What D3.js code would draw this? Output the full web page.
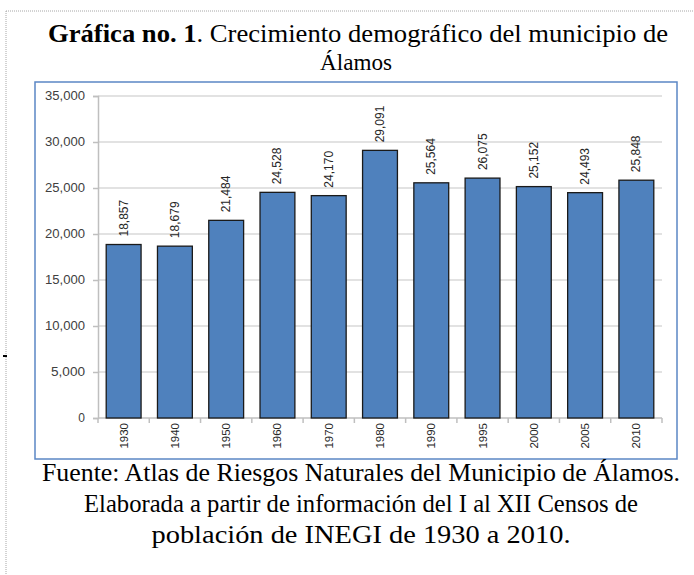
<!DOCTYPE html>
<html>
<head>
<meta charset="utf-8">
<script src="https://cdn.jsdelivr.net/npm/d3@7"></script>
<style>
  body { margin: 0; background: #fff; }
  svg { display: block; }
</style>
</head>
<body>
<div id="chart"></div>
<script>
// data
const years = ["1930", "1940", "1950", "1960", "1970", "1980", "1990", "1995", "2000", "2005", "2010"];
const population = [18857, 18679, 21484, 24528, 24170, 29091, 25564, 26075, 25152, 24493, 25848];
const yTicks = [0, 5000, 10000, 15000, 20000, 25000, 30000, 35000];
const footerLines = [
    "Fuente: Atlas de Riesgos Naturales del Municipio de Álamos.",
    "Elaborada a partir de información del I al XII Censos de",
    "población de INEGI de 1930 a 2010."
];

const width = 694, height = 575;

const svg = d3.select("#chart")
    .append("svg")
    .attr("width", width)
    .attr("height", height);

// page border (dotted, only top and left visible)
svg.append("line")
    .attr("x1", 6).attr("x2", width).attr("y1", 11).attr("y2", 11)
    .attr("stroke", "#a6a6a6").attr("stroke-dasharray", "1,1");
svg.append("line")
    .attr("x1", 6).attr("x2", 6).attr("y1", 11).attr("y2", height)
    .attr("stroke", "#a6a6a6").attr("stroke-dasharray", "1,1");
// little stray mark on the left margin
svg.append("rect").attr("x", 3).attr("y", 355).attr("width", 4).attr("height", 2).attr("fill", "#000");

// title
const serif = "'Liberation Serif', 'Times New Roman', serif";
const title1 = svg.append("text")
    .attr("x", 48).attr("y", 42)
    .attr("font-family", serif).attr("font-size", 25)
    .attr("textLength", 620).attr("lengthAdjust", "spacingAndGlyphs")
    .attr("fill", "#000");
title1.append("tspan").attr("font-weight", "bold").text("Gráfica no. 1");
title1.append("tspan").text(". Crecimiento demográfico del municipio de");

svg.append("text")
    .attr("x", 356).attr("y", 70)
    .attr("text-anchor", "middle")
    .attr("font-family", serif).attr("font-size", 24)
    .attr("textLength", 72).attr("lengthAdjust", "spacingAndGlyphs")
    .text("Álamos");

// chart box
svg.append("rect")
    .attr("x", 35).attr("y", 82)
    .attr("width", 642).attr("height", 377)
    .attr("fill", "#fff")
    .attr("stroke", "#5b87c5")
    .attr("stroke-width", 1.5);

const plot = {left: 98, right: 662, top: 96, bottom: 418};

const x = d3.scaleBand()
    .domain(years)
    .range([plot.left, plot.right])
    .paddingInner(0.32)
    .paddingOuter(0.16);

const y = d3.scaleLinear()
    .domain([0, 35000])
    .range([plot.bottom, plot.top]);

const sans = "'Liberation Sans', Arial, sans-serif";

// gridlines
svg.append("g")
    .selectAll("line")
    .data(yTicks.filter(d => d > 0))
    .join("line")
    .attr("x1", plot.left).attr("x2", plot.right)
    .attr("y1", d => y(d)).attr("y2", d => y(d))
    .attr("stroke", "#d9d9d9")
    .attr("stroke-width", 1.5);

// y axis
const yAxis = svg.append("g")
    .attr("transform", `translate(${plot.left},0)`)
    .call(d3.axisLeft(y).tickValues(yTicks).tickSize(5).tickPadding(8).tickFormat(d3.format(",")));
yAxis.select(".domain").attr("stroke", "#bfbfbf").attr("stroke-width", 1.5);
yAxis.selectAll(".tick line").attr("stroke", "#bfbfbf").attr("stroke-width", 1.5);
yAxis.selectAll(".tick text")
    .attr("font-family", sans).attr("font-size", 12)
    .attr("textLength", d => d === 0 ? null : (d < 10000 ? 34 : 40))
    .attr("lengthAdjust", "spacingAndGlyphs")
    .attr("fill", "#404040");

// x axis baseline and boundary ticks
const xAxis = svg.append("g");
xAxis.append("line")
    .attr("x1", plot.left).attr("x2", plot.right)
    .attr("y1", plot.bottom).attr("y2", plot.bottom)
    .attr("stroke", "#bfbfbf").attr("stroke-width", 1.5);
xAxis.selectAll("line.tick")
    .data(d3.range(years.length + 1))
    .join("line")
    .attr("class", "tick")
    .attr("x1", i => plot.left + i * (plot.right - plot.left) / years.length)
    .attr("x2", i => plot.left + i * (plot.right - plot.left) / years.length)
    .attr("y1", plot.bottom).attr("y2", plot.bottom + 5)
    .attr("stroke", "#bfbfbf").attr("stroke-width", 1.5);

// year labels (vertical)
xAxis.selectAll("text")
    .data(years)
    .join("text")
    .attr("transform", d => `translate(${x(d) + x.bandwidth() / 2},${plot.bottom + 5}) rotate(-90)`)
    .attr("text-anchor", "end")
    .attr("dominant-baseline", "central")
    .attr("font-family", sans).attr("font-size", 11.5)
    .attr("fill", "#262626")
    .text(d => d);

// bars
svg.append("g")
    .selectAll("rect")
    .data(population)
    .join("rect")
    .attr("x", (d, i) => x(years[i]))
    .attr("y", d => y(d))
    .attr("width", x.bandwidth())
    .attr("height", d => y(0) - y(d))
    .attr("fill", "#4f81bd")
    .attr("stroke", "#1a1a1a")
    .attr("stroke-width", 1.3);

// value labels (vertical)
svg.append("g")
    .selectAll("text")
    .data(population)
    .join("text")
    .attr("transform", (d, i) => `translate(${x(years[i]) + x.bandwidth() / 2},${y(d) - 8}) rotate(-90)`)
    .attr("text-anchor", "start")
    .attr("dominant-baseline", "central")
    .attr("font-family", sans).attr("font-size", 12)
    .attr("fill", "#262626")
    .text(d => d3.format(",")(d));

// footer
const footerLengths = [638, 554, 419];
svg.append("g")
    .selectAll("text")
    .data(footerLines)
    .join("text")
    .attr("x", 361)
    .attr("y", (d, i) => 481 + i * 31)
    .attr("text-anchor", "middle")
    .attr("font-family", serif).attr("font-size", 26)
    .attr("textLength", (d, i) => footerLengths[i])
    .attr("lengthAdjust", "spacingAndGlyphs")
    .attr("fill", "#000")
    .text(d => d);
</script>
</body>
</html>
